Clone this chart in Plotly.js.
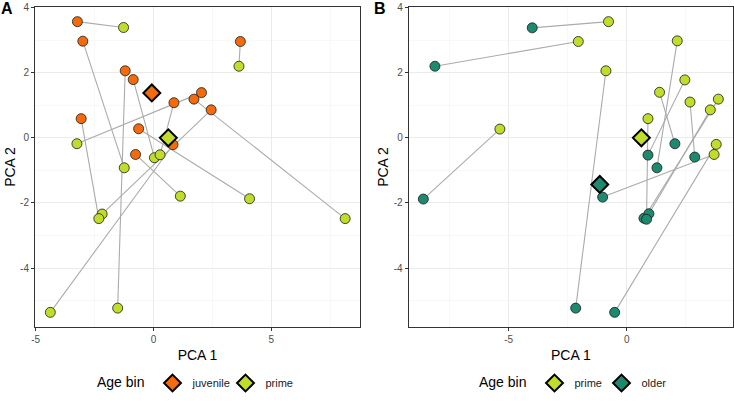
<!DOCTYPE html>
<html>
<head>
<meta charset="utf-8">
<script src="https://cdn.plot.ly/plotly-3.0.1.min.js"></script>
<style>
html,body{margin:0;padding:0;background:#fff;}
#chart{width:734px;height:403px;}
</style>
</head>
<body>
<div id="chart"></div>
<script>
// ---------- Panel A: juvenile -> prime (paired by index) ----------
const juvX    = [-3.23, -3.00, -1.20, -0.86, 0.87, 1.72, 2.04, 2.45, -3.07, -0.63, -0.76, 0.83, 3.69];
const juvY    = [ 3.57,  2.97,  2.06,  1.79, 1.08, 1.19, 1.39, 0.86,  0.59,  0.28, -0.51, -0.21, 2.96];
const primeAX = [-1.27, -1.24, -1.52,  0.04, 0.28, 8.14, -3.25, -2.18, -2.32, 4.08, 1.14, -4.38, 3.63];
const primeAY = [ 3.39, -0.92, -5.23, -0.61, -0.52, -2.48, -0.18, -2.34, -2.48, -1.87, -1.79, -5.36, 2.20];
const juvCentroid    = [-0.07, 1.38];
const primeACentroid = [0.63, 0.00];

// ---------- Panel B: prime -> older (paired by index) ----------
const primeBX = [-0.77, -2.05, -0.88, -5.37, 2.14, 2.46, 1.39, 2.68, 3.88, 3.54, 0.90, 3.79, 3.70];
const primeBY = [ 3.57,  2.96,  2.06,  0.27, 2.98, 1.78, 1.40, 1.10, 1.19, 0.86, 0.59, -0.20, -0.51];
const olderX  = [-4.00, -8.12, -2.16, -8.61, 1.28, 0.90, 2.04, 2.88, 0.73, 0.94, 0.84, -0.51, -1.02];
const olderY  = [ 3.38,  2.20, -5.23, -1.88, -0.92, -0.53, -0.18, -0.59, -2.47, -2.33, -2.50, -5.36, -1.82];
const primeBCentroid = [0.62, 0.00];
const olderCentroid  = [-1.14, -1.43];

const COL_JUV = '#F36B0D';
const COL_PRIME = '#C2DC2C';
const COL_OLDER = '#1D8A6F';
const FONT = '"Liberation Sans", Arial, sans-serif';

function segments(x1, y1, x2, y2) {
  const xs = [], ys = [];
  for (let i = 0; i < x1.length; i++) {
    xs.push(x1[i], x2[i], null);
    ys.push(y1[i], y2[i], null);
  }
  return {x: xs, y: ys};
}
function pts(x, y, color, xa, ya) {
  return {type: 'scatter', mode: 'markers', x: x, y: y, xaxis: xa, yaxis: ya,
    showlegend: false, hoverinfo: 'skip',
    marker: {symbol: 'circle', size: 10, color: color, line: {color: '#1a1a1a', width: 0.8}}};
}
function cent(c, color, name, xa, ya, leg) {
  return {type: 'scatter', mode: 'markers', x: [c[0]], y: [c[1]], xaxis: xa, yaxis: ya,
    name: name, legend: leg, showlegend: true, hoverinfo: 'skip',
    marker: {symbol: 'diamond', size: 13, color: color, line: {color: '#000', width: 2}}};
}

const segA = segments(juvX, juvY, primeAX, primeAY);
const segB = segments(primeBX, primeBY, olderX, olderY);

const traces = [
  {type: 'scatter', mode: 'lines', x: segA.x, y: segA.y, xaxis: 'x', yaxis: 'y',
   line: {color: '#ABABAB', width: 1.1}, showlegend: false, hoverinfo: 'skip'},
  pts(juvX, juvY, COL_JUV, 'x', 'y'),
  pts(primeAX, primeAY, COL_PRIME, 'x', 'y'),
  cent(juvCentroid, COL_JUV, 'juvenile', 'x', 'y', 'legend'),
  cent(primeACentroid, COL_PRIME, 'prime', 'x', 'y', 'legend'),
  {type: 'scatter', mode: 'lines', x: segB.x, y: segB.y, xaxis: 'x2', yaxis: 'y2',
   line: {color: '#ABABAB', width: 1.1}, showlegend: false, hoverinfo: 'skip'},
  pts(primeBX, primeBY, COL_PRIME, 'x2', 'y2'),
  pts(olderX, olderY, COL_OLDER, 'x2', 'y2'),
  cent(primeBCentroid, COL_PRIME, 'prime', 'x2', 'y2', 'legend2'),
  cent(olderCentroid, COL_OLDER, 'older', 'x2', 'y2', 'legend2')
];

function xax(domain, range, tickvals, anchor) {
  return {domain: domain, range: range, anchor: anchor, tickvals: tickvals,
    ticktext: tickvals.map(String), showgrid: true, gridcolor: '#EBEBEB', gridwidth: 1,
    minor: {dtick: 2.5, tick0: 0, showgrid: true, gridcolor: '#F4F4F4', gridwidth: 0.6, ticks: ''},
    zeroline: false, showline: true, mirror: true, linecolor: '#333333', linewidth: 1,
    ticks: 'outside', ticklen: 3, tickcolor: '#333333', tickwidth: 1,
    tickfont: {family: FONT, size: 10, color: '#4D4D4D'},
    title: {text: 'PCA 1', font: {family: FONT, size: 14, color: '#000'}, standoff: 6}};
}
function yax(domain, anchor) {
  return {domain: domain, range: [-5.81, 4.02], anchor: anchor, tickvals: [-4, -2, 0, 2, 4],
    ticktext: ['-4', '-2', '0', '2', '4'], showgrid: true, gridcolor: '#EBEBEB', gridwidth: 1,
    minor: {dtick: 1, tick0: 0, showgrid: true, gridcolor: '#F4F4F4', gridwidth: 0.6, ticks: ''},
    zeroline: false, showline: true, mirror: true, linecolor: '#333333', linewidth: 1,
    ticks: 'outside', ticklen: 3, tickcolor: '#333333', tickwidth: 1,
    tickfont: {family: FONT, size: 10, color: '#4D4D4D'},
    title: {text: 'PCA 2', font: {family: FONT, size: 14, color: '#000'}, standoff: 1}};
}

const W = 734;
const layout = {
  width: 734, height: 403,
  margin: {l: 0, r: 0, t: 7, b: 76, pad: 0},
  paper_bgcolor: '#fff', plot_bgcolor: '#fff',
  font: {family: FONT},
  xaxis: xax([35 / W, 360 / W], [-5.03, 8.77], [-5, 0, 5], 'y'),
  yaxis: yax([0, 1], 'x'),
  xaxis2: xax([408.7 / W, 733 / W], [-9.23, 4.5], [-5, 0], 'y2'),
  yaxis2: yax([0, 1], 'x2'),
  legend: {orientation: 'h', x: 95 / W, xanchor: 'left', y: -0.175, yanchor: 'middle',
    entrywidth: 28, entrywidthmode: 'pixels',
    title: {text: 'Age bin', side: 'left', font: {family: FONT, size: 14, color: '#000'}},
    font: {family: FONT, size: 11, color: '#1a1a1a'}, bgcolor: 'rgba(0,0,0,0)', borderwidth: 0},
  legend2: {orientation: 'h', x: 477 / W, xanchor: 'left', y: -0.175, yanchor: 'middle',
    entrywidth: 22, entrywidthmode: 'pixels',
    title: {text: 'Age bin', side: 'left', font: {family: FONT, size: 14, color: '#000'}},
    font: {family: FONT, size: 11, color: '#1a1a1a'}, bgcolor: 'rgba(0,0,0,0)', borderwidth: 0},
  annotations: [
    {text: '<b>A</b>', xref: 'paper', yref: 'paper', x: 7 / W, y: (327 - 9) / 320,
     xanchor: 'center', yanchor: 'middle', showarrow: false, font: {family: FONT, size: 16, color: '#000'}},
    {text: '<b>B</b>', xref: 'paper', yref: 'paper', x: 380 / W, y: (327 - 9) / 320,
     xanchor: 'center', yanchor: 'middle', showarrow: false, font: {family: FONT, size: 16, color: '#000'}}
  ]
};

Plotly.newPlot('chart', traces, layout, {displayModeBar: false, staticPlot: true});
</script>
</body>
</html>
